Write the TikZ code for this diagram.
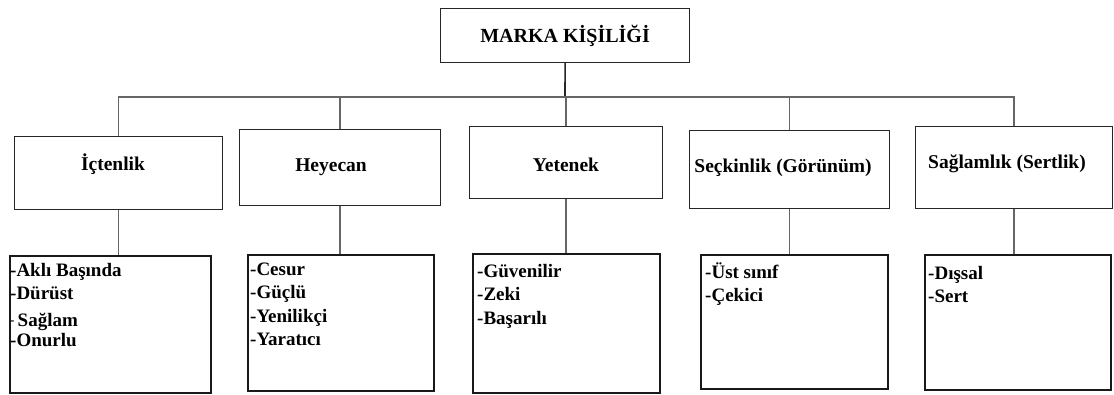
\documentclass[tikz,border=0pt]{standalone}
\usepackage{fontspec}
\setmainfont{Liberation Serif}
\begin{document}
\begin{tikzpicture}[x=1pt,y=-1pt,
  headbox/.style={draw=black!85, line width=1.2pt, fill=white, inner sep=0pt,
    anchor=north west, font=\fontsize{20pt}{23pt}\selectfont\bfseries},
  catbox/.style={draw=black!85, line width=1.2pt, fill=white, inner sep=0pt,
    anchor=north west},
  cattext/.style={inner sep=0pt, anchor=base,
    font=\fontsize{19.5pt}{23pt}\selectfont\bfseries},
  listbox/.style={draw=black!90, line width=2pt, fill=white, inner sep=0pt,
    anchor=north west},
  listtext/.style={anchor=north west, inner sep=0pt, align=left,
    font=\fontsize{19pt}{23.5pt}\selectfont\bfseries},
  link/.style={draw=black!60, line width=1.6pt},
  stem/.style={draw=black!85, line width=1.6pt}
]
\useasboundingbox (0,0) rectangle (1114,394);

% root
\node[headbox, minimum width=249pt, minimum height=54pt] (top) at (440,8) {MARKA KİŞİLİĞİ};

% personality dimensions
\node[catbox, minimum width=208pt, minimum height=73pt] (ic) at (14,136)  {};
\node[catbox, minimum width=201pt, minimum height=76pt] (hy) at (239,129) {};
\node[catbox, minimum width=193pt, minimum height=72pt] (ye) at (469,126) {};
\node[catbox, minimum width=200pt, minimum height=78pt] (se) at (689,130) {};
\node[catbox, minimum width=197pt, minimum height=82pt] (sg) at (915,126) {};

\node[cattext] (icC) at (113,170)   {İçtenlik};
\node[cattext] (hyC) at (331,171)   {Heyecan};
\node[cattext] (yeC) at (566,171.5) {Yetenek};
\node[cattext] (seC) at (783,172)   {Seçkinlik (Görünüm)};
\node[cattext] (sgC) at (1007,168.5){Sağlamlık (Sertlik)};

% trait boxes
\node[listbox, minimum width=201pt, minimum height=137pt] (icL) at (9,255)   {};
\node[listbox, minimum width=186pt, minimum height=136pt] (hyL) at (247,254) {};
\node[listbox, minimum width=187pt, minimum height=139pt] (yeL) at (472,253) {};
\node[listbox, minimum width=187pt, minimum height=134pt] (seL) at (700,254) {};
\node[listbox, minimum width=186pt, minimum height=135pt] (sgL) at (924,254) {};

% trait lists
\node[listtext] (icT) at (10,259.5) {\strut-Aklı Başında\\-Dürüst\\
  \raisebox{-3pt}{\raisebox{2pt}{\fontsize{13pt}{13pt}\selectfont -}\,Sağlam}\\-Onurlu};
\node[listtext] (hyT) at (250,258.5) {\strut-Cesur\\-Güçlü\\-Yenilikçi\\-Yaratıcı};
\node[listtext] (yeT) at (477,260.5) {\strut-Güvenilir\\-Zeki\\-Başarılı};
\node[listtext] (seT) at (705,261.5) {\strut-Üst sınıf\\-Çekici};
\node[listtext] (sgT) at (928,262.5) {\strut-Dışsal\\-Sert};

% tree connectors
\coordinate (bus) at (565,97);
\draw[stem] (top.south) -- (bus);
\draw[link] (ic.north) |- (sg.north |- bus) -- (sg.north);
\draw[link] (hy.north) -- (hy.north |- bus);
\draw[link] (ye.north) -- (ye.north |- bus);
\draw[link] (se.north) -- (se.north |- bus);

\draw[link] (ic.south) -- (ic.south |- icL.north);
\draw[link] (hy.south) -- (hy.south |- hyL.north);
\draw[link] (ye.south) -- (ye.south |- yeL.north);
\draw[link] (se.south) -- (se.south |- seL.north);
\draw[link] (sg.south) -- (sg.south |- sgL.north);
\end{tikzpicture}
\end{document}
